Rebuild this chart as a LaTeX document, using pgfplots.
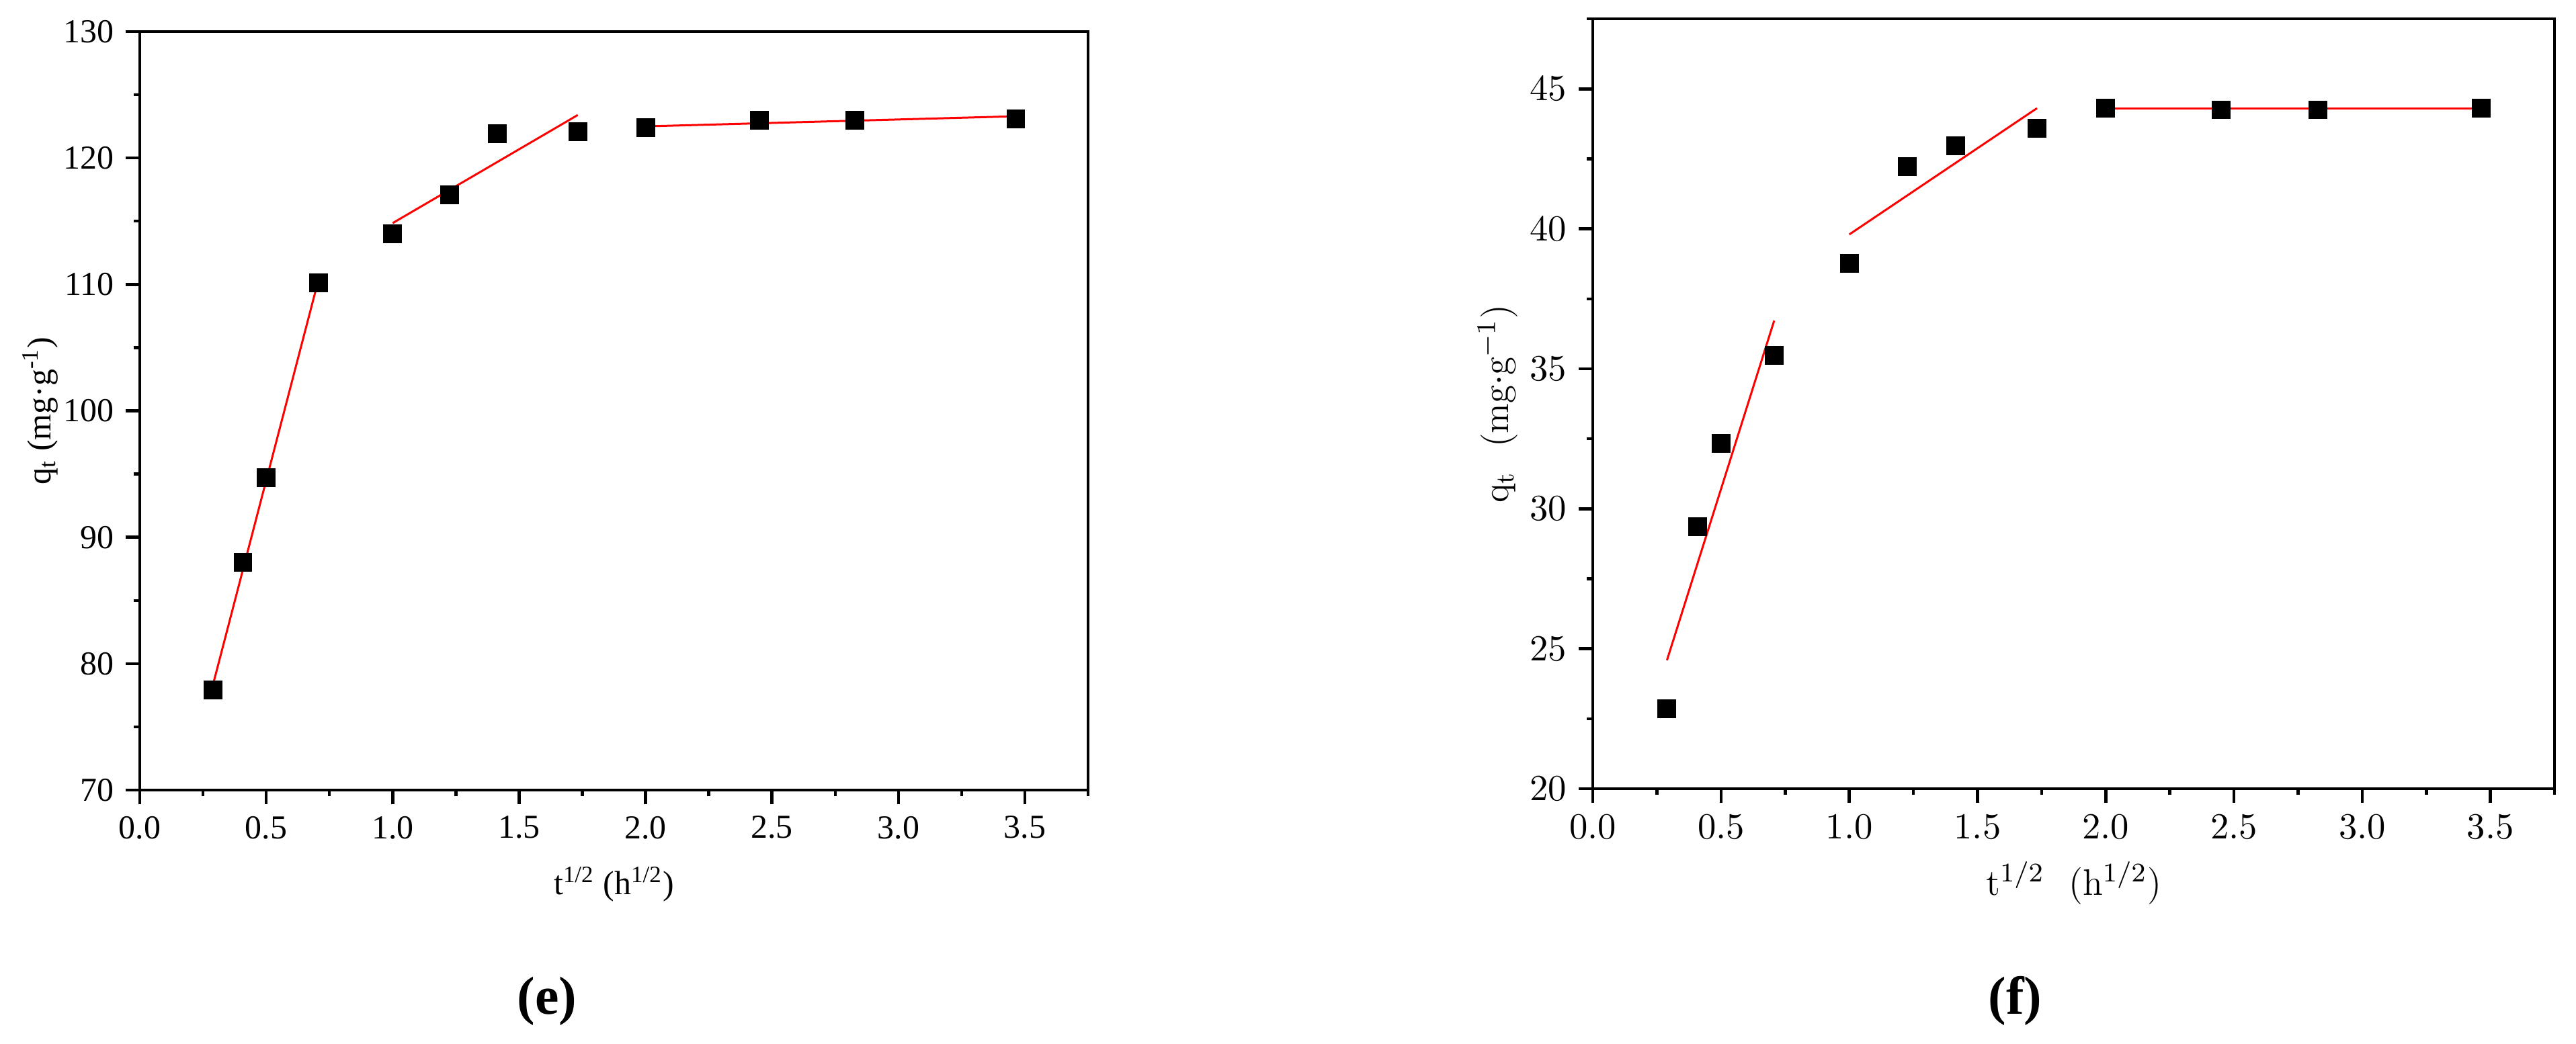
\documentclass[border=0pt]{standalone}
\usepackage{fontspec}
\usepackage{pgfplots}
\pgfplotsset{compat=1.18}
\newfontfamily\tnr{Liberation Serif}

\pgfplotstableread{
x      y
0.289  77.9
0.408  88.0
0.500  94.7
0.707  110.1
1.000  114.0
1.225  117.1
1.414  121.9
1.732  122.1
2.000  122.4
2.449  123.0
2.828  123.0
3.464  123.1
}\datae

\pgfplotstableread{
x      y
0.289  22.86
0.408  29.36
0.500  32.33
0.707  35.49
1.000  38.77
1.225  42.23
1.414  42.96
1.732  43.58
2.000  44.31
2.449  44.25
2.828  44.25
3.464  44.31
}\dataf

\pgfplotsset{
  kin/.style={
    scale only axis,
    anchor=south west,
    axis line style={line width=0.9pt},
    every tick/.style={black, line width=0.9pt},
    tick align=outside,
    xtick pos=bottom, ytick pos=left,
    major tick length=0.15cm,
    minor tick length=0.065cm,
    xmin=0, xmax=3.75,
    xtick={0,0.5,...,3.5},
    minor xtick={0.25,0.75,...,3.75},
    xticklabel style={/pgf/number format/.cd, fixed, fixed zerofill, precision=1},
    every axis x label/.style={at={(axis description cs:0.5,0)}, yshift=-0.99cm, anchor=center},
    every axis y label/.style={at={(axis description cs:0,0.5)}, rotate=90, anchor=center},
  },
  pts/.style={only marks, mark=square*, mark size=2.6pt, black},
  fit/.style={red, line width=0.6pt, no marks},
}

\begin{document}
\begin{tikzpicture}
\useasboundingbox (0,0) rectangle (27cm,10.94cm);

% (e)
\begin{axis}[kin,
  at={(1.465cm,2.656cm)}, width=9.94cm, height=7.953cm,
  ymin=70, ymax=130, ytick={70,80,...,130}, minor ytick={75,85,...,125},
  tick label style={font=\tnr\fontsize{10}{12}\selectfont},
  /pgf/number format/assume math mode=true,
  xlabel={\tnr t\textsuperscript{1/2} (h\textsuperscript{1/2})},
  ylabel={\tnr q\textsubscript{t} (mg·g\textsuperscript{-1})},
  ylabel style={xshift=0cm, yshift=0cm, at={(axis description cs:-0.105,0.5)}},
]
\addplot[pts] table {\datae};
\addplot[fit] coordinates {(0.289,78.3) (0.707,110.4)};
\addplot[fit] coordinates {(1.0,114.85) (1.732,123.4)};
\addplot[fit] coordinates {(2.0,122.5) (3.464,123.3)};
\end{axis}

% (f)
\begin{axis}[kin,
  at={(16.695cm,2.670cm)}, width=10.08cm, height=8.072cm,
  ymin=20, ymax=47.5, ytick={20,25,...,45}, minor ytick={22.5,27.5,...,47.5},
  tick label style={font=\fontsize{10.5}{12}\selectfont},
  xlabel={\fontsize{11}{13}\selectfont t$^{1/2}$\ \ (h$^{1/2}$)},
  ylabel={\fontsize{11}{13}\selectfont q$_{\mathrm{t}}$\ \ (mg$\cdot$g$^{-1}$)},
  ylabel style={at={(axis description cs:-0.099,0.5)}},
]
\addplot[pts] table {\dataf};
\addplot[fit] coordinates {(0.289,24.59) (0.707,36.72)};
\addplot[fit] coordinates {(1.0,39.80) (1.732,44.31)};
\addplot[fit] coordinates {(2.0,44.31) (3.464,44.31)};
\end{axis}

\node at (5.734cm,0.444cm) {\tnr\bfseries\fontsize{16}{18}\selectfont (e)};
\node at (21.12cm,0.444cm) {\tnr\bfseries\fontsize{16}{18}\selectfont (f)};
\end{tikzpicture}
\end{document}
